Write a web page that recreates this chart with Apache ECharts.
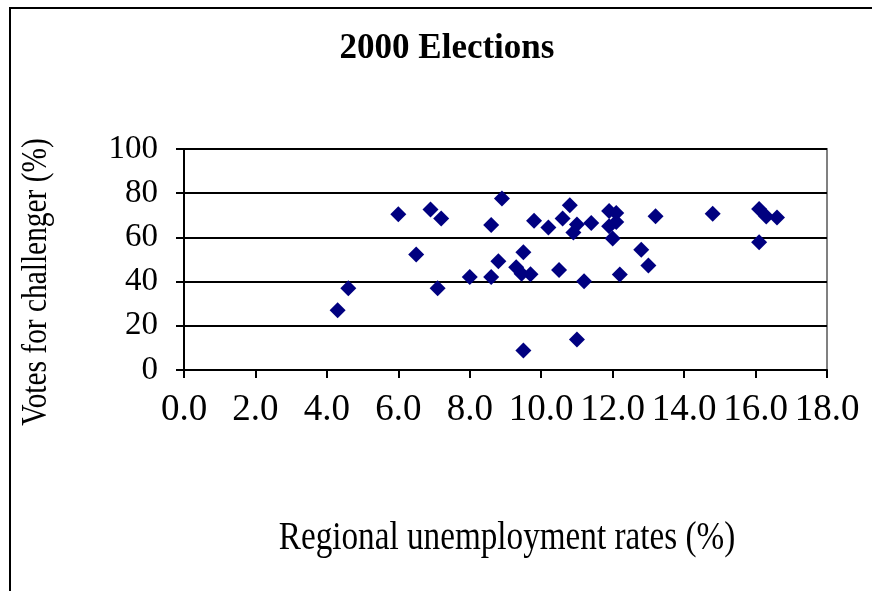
<!DOCTYPE html>
<html>
<head>
<meta charset="utf-8">
<script src="https://cdn.jsdelivr.net/npm/echarts@6/dist/echarts.min.js"></script>
<style>
  html, body { margin: 0; padding: 0; background: #fff; }
  #chart { width: 872px; height: 591px; }
</style>
</head>
<body>
<div id="chart"></div>
<script>
// Regional unemployment rate (%) for each region
const unemployment = [
  4.3, 4.6, 6.0, 6.5, 6.9, 7.2, 7.1, 8.0, 8.6, 8.6,
  8.9, 8.8, 9.5, 9.3, 9.45, 9.7, 9.8, 10.2, 10.6, 10.8,
  11.0, 10.9, 11.4, 10.5, 11.2, 9.5, 11.0, 11.9, 12.1, 11.9,
  12.1, 12.0, 12.2, 12.8, 13.0, 13.2, 14.8, 16.1, 16.3, 16.6,
  16.1
];
// Share of votes for the challenger (%) in the same regions
const challengerVotes = [
  27.0, 37.0, 70.5, 52.3, 72.6, 68.6, 37.0, 42.1, 42.1, 65.6,
  77.6, 49.2, 53.3, 46.5, 43.5, 43.3, 67.5, 64.5, 68.6, 74.6,
  65.8, 62.2, 66.5, 45.3, 40.2, 8.8, 13.8, 72.0, 71.0, 65.0,
  67.0, 59.5, 43.2, 54.4, 47.3, 69.6, 70.7, 72.8, 69.5, 69.0,
  57.8
];
const xTicks = [0, 2, 4, 6, 8, 10, 12, 14, 16, 18];
const yTicks = [0, 20, 40, 60, 80, 100];

const chartTitle = '2000 Elections';
const xTitle = 'Regional unemployment rates (%)';
const yTitle = 'Votes for challenger (%)';

const points = unemployment.map((u, i) => [u, challengerVotes[i]]);
const serif = "'Liberation Serif', 'Times New Roman', serif";

const chart = echarts.init(document.getElementById('chart'), null, { renderer: 'canvas' });
chart.setOption({
  animation: false,
  backgroundColor: '#ffffff',
  grid: { left: 184, top: 149, right: 45, bottom: 221, show: true,
          borderColor: '#808080', borderWidth: 2, backgroundColor: 'transparent' },
  graphic: [
    // outer chart frame
    { type: 'rect', silent: true, z: -1,
      shape: { x: 10, y: 8, width: 900, height: 700 },
      style: { fill: 'none', stroke: '#000', lineWidth: 2 } },
    { type: 'text', x: 447, y: 49,
      style: { text: chartTitle, font: "bold 35px " + serif, fill: '#000',
               align: 'center', verticalAlign: 'middle' } },
    // axis titles, set in a slightly condensed serif
    { type: 'text', x: 37, y: 282, rotation: Math.PI / 2, scaleX: 0.84,
      style: { text: yTitle, font: "35px " + serif, fill: '#000',
               align: 'center', verticalAlign: 'middle' } },
    { type: 'text', x: 507, y: 538, scaleX: 0.83,
      style: { text: xTitle, font: "40px " + serif, fill: '#000',
               align: 'center', verticalAlign: 'middle' } }
  ],
  xAxis: {
    type: 'value', min: xTicks[0], max: xTicks[xTicks.length - 1], interval: 2,
    axisLine: { show: true, onZero: false, lineStyle: { color: '#000', width: 2 } },
    axisTick: { show: true, inside: false, length: 8, lineStyle: { color: '#000', width: 2 } },
    axisLabel: { fontFamily: serif, fontSize: 37, color: '#000', margin: 22,
                 formatter: v => v.toFixed(1) },
    splitLine: { show: false }
  },
  yAxis: {
    type: 'value', min: yTicks[0], max: yTicks[yTicks.length - 1], interval: 20,
    axisLine: { show: true, onZero: false, lineStyle: { color: '#000', width: 2 } },
    axisTick: { show: true, inside: false, length: 8, lineStyle: { color: '#000', width: 2 } },
    axisLabel: { fontFamily: serif, fontSize: 33, color: '#000', margin: 26 },
    splitLine: { show: true, lineStyle: { color: '#000', width: 2 } }
  },
  series: [{
    type: 'scatter',
    data: points,
    symbol: 'diamond',
    symbolSize: [16, 16],
    itemStyle: { color: '#000080', opacity: 1 },
    z: 5
  }]
});
</script>
</body>
</html>
